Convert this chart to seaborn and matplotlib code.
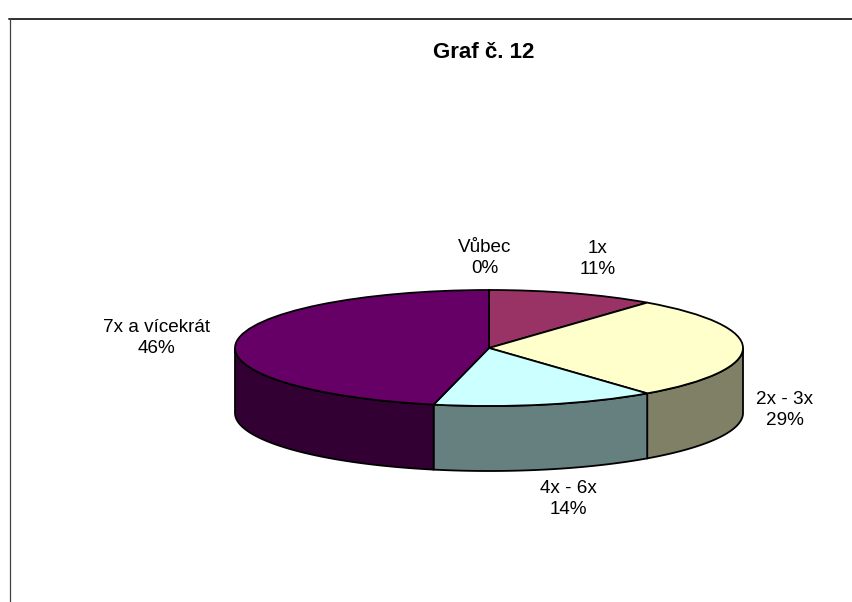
import numpy as np
import matplotlib
matplotlib.use("Agg")
import matplotlib.pyplot as plt
from matplotlib.lines import Line2D
import seaborn as sns

# --- data ---
categories = ["Vůbec", "1x", "2x - 3x", "4x - 6x", "7x a vícekrát"]
shares = [0.0, 10.7, 28.6, 14.2, 46.5]
percent_labels = ["0%", "11%", "29%", "14%", "46%"]
title = "Graf č. 12"

# --- style ---
top_colors = ["#9999FF", "#993366", "#FFFFCC", "#CCFFFF", "#660066"]
side_colors = ["#4D4D80", "#4D1A33", "#808066", "#668080", "#330033"]

W, H = 853, 602
CX, CY, RX, RY, DEPTH = 489, 348, 254, 58, 65
label_px = [(485, 258), (598, 259), (785, 410), (568, 499), (157, 338)]

sns.set_theme(style="white")
plt.rcParams["font.family"] = ["Liberation Sans", "DejaVu Sans"]

fig = plt.figure(figsize=(W / 100, H / 100), dpi=100, facecolor="white")
ax = fig.add_axes([(CX - RX) / W, 1 - (CY + RY) / H, 2 * RX / W, 2 * RY / H])

wedges, _ = ax.pie(
    shares, colors=top_colors, startangle=90, counterclock=False, radius=1,
    wedgeprops=dict(edgecolor="black", linewidth=1.3, zorder=3, clip_on=False),
)
ax.set_aspect("auto")
ax.set_xlim(-1, 1)
ax.set_ylim(-1, 1)
ax.axis("off")

# Rim of the disc: the front half of each slice, dropped by the depth.
fractions = np.array(shares) / np.sum(shares)
ends = np.cumsum(fractions)
starts = ends - fractions
drop = 2 * DEPTH / (2 * RY)
for s, e, col in zip(starts, ends, side_colors):
    a, b = max(s, 0.25), min(e, 0.75)
    if b <= a:
        continue
    t = np.linspace(a, b, 120)
    x = np.sin(2 * np.pi * t)
    y = np.cos(2 * np.pi * t)
    ax.fill(np.r_[x, x[::-1]], np.r_[y, y[::-1] - drop], facecolor=col,
            edgecolor="black", linewidth=1.3, zorder=2, clip_on=False)

for (px, py), cat, pct in zip(label_px, categories, percent_labels):
    fig.text(px / W, 1 - py / H, f"{cat}\n{pct}", ha="center", va="center",
             fontsize=13.6, color="black", linespacing=1.25)

fig.text(484 / W, 1 - 52 / H, title, ha="center", va="center",
         fontsize=16, fontweight="bold", color="black")

# Chart-area border: only the top and left edges fall inside the picture.
fig.add_artist(Line2D([9 / W, 1], [1 - 18.5 / H] * 2, color="#303030", linewidth=1.4))
fig.add_artist(Line2D([9.5 / W] * 2, [1 - 18 / H, 0], color="#404040", linewidth=0.9))

fig.savefig("out.png", dpi=100, facecolor="white")
